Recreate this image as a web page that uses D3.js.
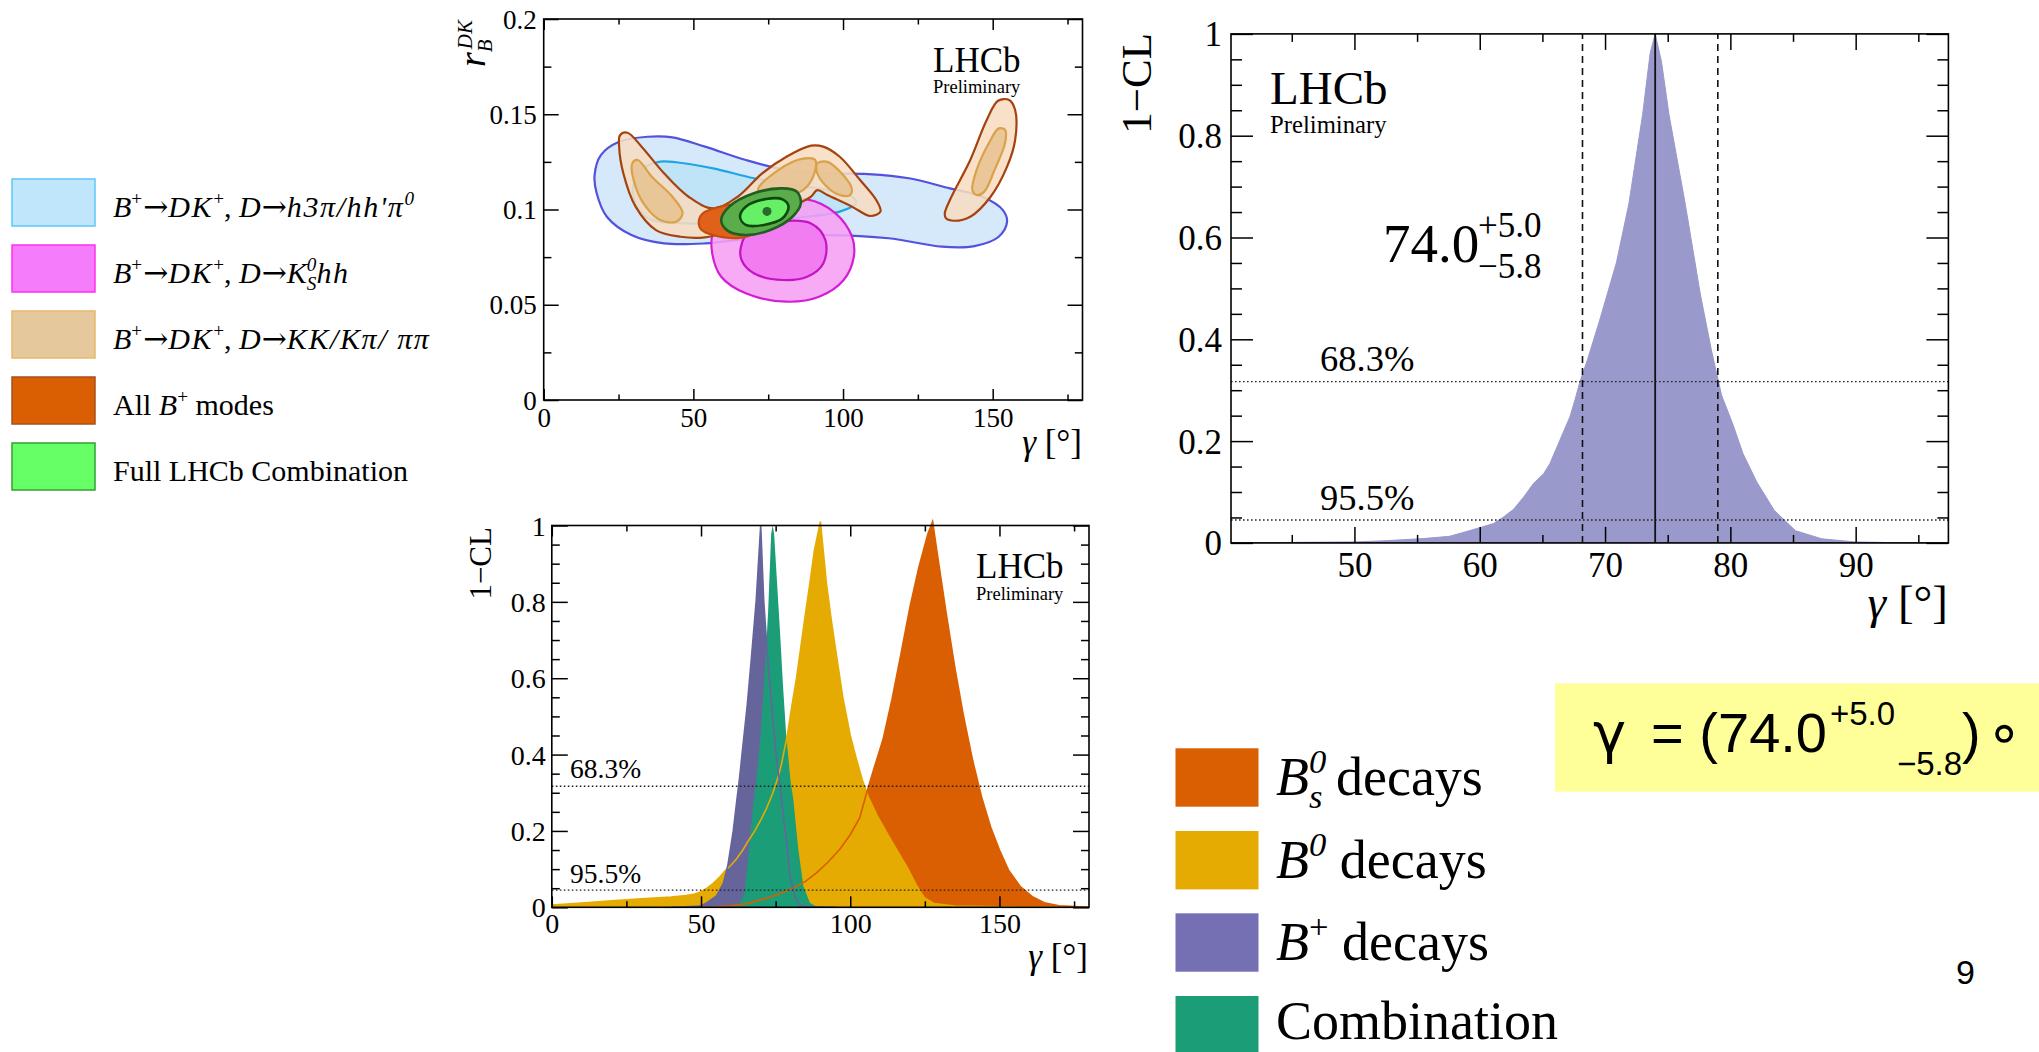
<!DOCTYPE html>
<html><head><meta charset="utf-8">
<script src="https://cdn.jsdelivr.net/npm/d3@7"></script>
<style>
body{margin:0;background:#fff;}
svg{display:block;background:#fff;}
text{font-family:"Liberation Serif","Times New Roman",serif;fill:#000;}
</style></head><body>
<svg id="chart" width="2039" height="1052"></svg>
<script>
// ===================== DATA =====================
// --- Top plot: 2D contours in (gamma [deg], r_B^DK) ---
const blueOuter = [[17,0.118],[19.1,0.1286],[25.2,0.1356],[34.8,0.1382],[43,0.1379],[53.9,0.133],[67.5,0.126],[81.1,0.1207],[94.8,0.119],[108.4,0.1186],[122,0.1164],[135.7,0.1111],[146.6,0.1067],[153.4,0.0997],[154.8,0.0936],[152,0.0857],[143.9,0.0808],[133,0.0805],[115.2,0.0849],[94.8,0.0866],[74.3,0.0857],[53.9,0.0822],[40.2,0.0822],[29.3,0.0866],[21.1,0.0962],[17.7,0.1085]];
const blueInner = [[30,0.1129],[33.4,0.1216],[38.9,0.1251],[44.3,0.1248],[56.6,0.1216],[70.2,0.1164],[81.1,0.1137],[94.8,0.1102],[103,0.1067],[104.3,0.1032],[98.9,0.0989],[88,0.0962],[67.5,0.0936],[48.4,0.0927],[34.8,0.0954],[30.7,0.1032]];
const magentaOuter = [[56.6,0.0875],[64.8,0.098],[75.7,0.1032],[88,0.1053],[97.5,0.098],[103,0.0857],[103.6,0.0752],[100.2,0.063],[92,0.0542],[81.1,0.0516],[67.5,0.056],[59.3,0.0647],[56.3,0.077]];
const magentaInner = [[65.9,0.0805],[68.9,0.0892],[78.4,0.0936],[89.3,0.0927],[94.1,0.084],[93.4,0.0717],[88,0.0647],[79.8,0.063],[70.2,0.0665],[66.1,0.0735]];
const tanOuterA = [[25.5,0.139],[28,0.1403],[32.7,0.133],[40.2,0.119],[48.4,0.1067],[56.6,0.1006],[64.8,0.1067],[73,0.119],[81.1,0.1277],[89.3,0.1335],[93.4,0.133],[98.9,0.1277],[105.7,0.1155],[111.1,0.105],[112.5,0.0989],[109.1,0.0966],[103,0.1015],[94.8,0.1076],[91.4,0.1102],[89.3,0.1067],[85.2,0.1032],[59.3,0.0875],[53.9,0.0854],[45.7,0.0857],[37.5,0.0892],[30.7,0.1015],[26.6,0.119],[25.2,0.133]];
const tanOuterB = [[134,0.098],[135.7,0.105],[142.5,0.126],[148,0.147],[151.8,0.1571],[155.5,0.1575],[157.5,0.1522],[157.5,0.1365],[154.8,0.1225],[149.3,0.1067],[142.5,0.0962],[137.1,0.0941],[134.4,0.0954]];
const tanInner1 = [[29.6,0.1242],[31.4,0.126],[36.1,0.1172],[43,0.1067],[46.4,0.098],[44.3,0.0936],[38.9,0.0945],[34.1,0.1015],[30.7,0.112]];
const tanInner2 = [[71.6,0.1102],[78.4,0.1207],[86.6,0.1267],[90.7,0.126],[90,0.1172],[86.6,0.1102],[79.8,0.1067],[74.3,0.1067]];
const tanInner3 = [[91.4,0.1242],[94.8,0.125],[99.5,0.119],[102.9,0.1111],[102.3,0.1076],[98.9,0.1076],[94,0.1129],[91.4,0.119]];
const tanInner4 = [[143.2,0.1102],[144.6,0.1207],[149.3,0.1365],[152,0.1426],[154.2,0.1417],[154.1,0.1347],[150.6,0.1207],[147.2,0.1094],[144.6,0.1076]];
const allBplus = [[51.8,0.0936],[53.2,0.098],[58,0.1011],[64.8,0.1029],[70.2,0.1015],[73,0.0945],[70.2,0.0875],[64.8,0.085],[56.6,0.0866],[52.8,0.0892]];
const greenOuter = [[59.3,0.0945],[62,0.1015],[70.2,0.1085],[79.8,0.1111],[84.5,0.1094],[85.9,0.1032],[83.1,0.0962],[75.7,0.0892],[67.5,0.0866],[61.4,0.0889]];
const greenInner = [[65.6,0.0962],[67.5,0.1015],[74.3,0.1055],[79.8,0.1053],[81.8,0.1015],[79.8,0.0954],[73.6,0.0919],[67.5,0.0919]];
const bestFit = [74.6, 0.099];

// --- Bottom plot: 1-CL vs gamma for each group ---
const bsDecays = [[50,0],[55,0.001],[60,0.004],[65,0.009],[72,0.024],[76,0.035],[80.9,0.05],[85,0.068],[88.7,0.09],[92.5,0.118],[96.5,0.152],[100,0.19],[103.2,0.235],[105.5,0.3],[108,0.365],[111,0.44],[114,0.545],[117,0.664],[120,0.786],[123,0.891],[126,0.978],[127.6,1.01],[129,0.935],[132,0.778],[135,0.63],[138,0.499],[141,0.385],[144,0.289],[147,0.211],[150,0.15],[153,0.098],[157,0.054],[161,0.028],[165,0.012],[170,0.004],[175,0.002],[180,0]];
const b0Decays = [[0,0.006],[10,0.011],[20,0.017],[30,0.022],[40,0.027],[45,0.031],[48,0.035],[50,0.041],[52,0.05],[54,0.062],[56,0.077],[58,0.095],[60,0.11],[62,0.128],[64,0.15],[66,0.176],[68,0.2],[70,0.228],[72,0.26],[74,0.298],[76,0.345],[77,0.377],[79,0.455],[80.5,0.53],[82,0.6],[83.5,0.685],[85,0.769],[86.5,0.85],[88,0.935],[90,1.01],[92,0.85],[93.5,0.76],[95,0.68],[97.5,0.55],[100,0.45],[102,0.39],[104,0.335],[106,0.29],[109,0.24],[112.6,0.19],[116,0.145],[119.4,0.1],[122,0.06],[124.8,0.025],[128,0.01],[135,0.003],[150,0.001],[180,0]];
const bplusDecays = [[40,0],[45,0.001],[49.7,0.003],[52,0.012],[55.2,0.03],[57.5,0.063],[59,0.11],[60.8,0.2],[62,0.28],[63,0.345],[64,0.42],[65.5,0.53],[67,0.664],[68.5,0.804],[70,1.0],[71,0.804],[72,0.69],[73.5,0.542],[75,0.411],[76.3,0.33],[77.3,0.26],[78.7,0.169],[79.8,0.081],[81.5,0.028],[83,0.006],[86,0.001],[95,0]];
const combination = [[50,0],[55,0.001],[60,0.003],[63,0.01],[64.5,0.035],[65.2,0.08],[66.3,0.17],[67.5,0.27],[68.5,0.33],[70,0.455],[71.5,0.63],[72.5,0.778],[73.5,0.978],[74,1.0],[74.5,0.978],[75.5,0.847],[76.5,0.717],[77.5,0.577],[78.5,0.455],[80,0.33],[80.9,0.284],[82.6,0.152],[84.3,0.055],[86.5,0.011],[88.7,0.002],[95,0]];

// --- Right plot: full combination 1-CL ---
const fullCombo = [[40.15,0],[45,0.001],[50.1,0.002],[52.3,0.004],[55.5,0.0085],[57.6,0.013],[58.9,0.022],[60,0.03],[61.1,0.038],[61.9,0.051],[62.7,0.066],[63.5,0.09],[64.3,0.117],[65.1,0.136],[65.6,0.156],[66.4,0.202],[67.2,0.248],[67.6,0.281],[68,0.317],[68.6,0.36],[69.6,0.44],[70.9,0.55],[71.9,0.666],[73,0.842],[73.6,0.962],[74,1.0],[74.5,0.946],[75.1,0.842],[76.4,0.666],[77.6,0.489],[78.5,0.377],[79.3,0.29],[80.2,0.233],[81,0.176],[82.1,0.12],[83.5,0.064],[85.2,0.024],[87.3,0.008],[89.9,0.002],[93,0.0005],[97.4,0]];
const gammaBest = 74.0, gammaLo = 68.2, gammaHi = 79.0;
const clLevels = [0.317, 0.045];
const clLabels = ["68.3%", "95.5%"];

// --- ticks ---
const topXMajor = [0,50,100,150], topXMinor = [25,75,125,175];
const topYMajor = [0,0.05,0.1,0.15,0.2], topYMinor = [0.025,0.075,0.125,0.175];
const botXMajor = [0,50,100,150], botXMinor = [25,75,125,175];
const clMajor = [0,0.2,0.4,0.6,0.8,1], clMinor = [0.05,0.1,0.15,0.25,0.3,0.35,0.45,0.5,0.55,0.65,0.7,0.75,0.85,0.9,0.95];
const rXMajor = [50,60,70,80,90], rXMinor = [45,55,65,75,85,95];

// --- legends ---
const legendTopColors = [["#bfe6fa","#5cc8fa"],["#f57cfb","#ff30ee"],["#e5c89b","#e8b868"],["#d95f02","#a8501e"],["#66ff66","#33a033"]];
const legendBotColors = ["#d95f02","#e6ab02","#7570b3","#1b9e77"];

// ===================== DRAWING =====================
const svg = d3.select("#chart");
const fmt = d3.format("~g");
const ARROWFONT = "'DejaVu Serif', 'DejaVu Sans', serif";

function drawAxes(g, x, y, c) {
  const [L, R] = x.range(), [B, T] = y.range();
  const mk = (gen, vals, len, f) => gen.tickValues(vals).tickSizeInner(-len).tickSizeOuter(0).tickFormat(f || (() => ""));
  const sets = [
    [d3.axisBottom(x), `translate(0,${B})`, c.xMajor, c.xLen[0], fmt, "bx"],
    [d3.axisBottom(x), `translate(0,${B})`, c.xMinor, c.xLen[1], null, ""],
    [d3.axisTop(x), `translate(0,${T})`, c.xMajor, c.xLen[0], null, ""],
    [d3.axisTop(x), `translate(0,${T})`, c.xMinor, c.xLen[1], null, ""],
    [d3.axisLeft(y), `translate(${L},0)`, c.yMajor, c.yLen[0], fmt, "ly"],
    [d3.axisLeft(y), `translate(${L},0)`, c.yMinor, c.yLen[1], null, ""],
    [d3.axisRight(y), `translate(${R},0)`, c.yMajor, c.yLen[0], null, ""],
    [d3.axisRight(y), `translate(${R},0)`, c.yMinor, c.yLen[1], null, ""]
  ];
  sets.forEach(([gen, tr, vals, len, f, kind]) => {
    const a = g.append("g").attr("transform", tr).call(mk(gen, vals, len, f));
    a.attr("font-family", null).attr("font-size", null);
    a.select(".domain").remove();
    a.selectAll(".tick line").attr("stroke", "#000").attr("stroke-width", 1.5);
    if (kind === "bx") a.selectAll("text").attr("y", c.xLabY).attr("dy", null).style("font-size", c.fs + "px");
    else if (kind === "ly") a.selectAll("text").attr("x", -c.yGap).attr("dy", "0.34em").style("font-size", c.fs + "px");
    else a.selectAll("text").remove();
  });
  g.append("rect").attr("x", L).attr("y", T).attr("width", R - L).attr("height", B - T)
    .attr("fill", "none").attr("stroke", "#000").attr("stroke-width", 1.6);
}

function rich(parent, x, y, fs, parts, opts = {}) {
  const t = parent.append("text").attr("x", x).attr("y", y).style("font-size", fs + "px");
  if (opts.family) t.style("font-family", opts.family);
  if (opts.anchor) t.attr("text-anchor", opts.anchor);
  let cur = 0, prev = null;
  parts.forEach(p => {
    const ts = t.append("tspan").text(p.t);
    if (p.i) ts.style("font-style", "italic");
    if (p.f) ts.style("font-family", p.f);
    if (p.s) ts.style("font-size", (p.s * fs) + "px");
    if (p.ls) ts.style("letter-spacing", p.ls + "px");
    let off = 0;
    if (p.sup) { off = -0.40 * fs; ts.style("font-size", (0.64 * fs) + "px"); }
    if (p.sub) { off = 0.24 * fs; ts.style("font-size", (0.64 * fs) + "px"); }
    if (off - cur !== 0) ts.attr("dy", off - cur);
    if (p.stack && prev) ts.attr("dx", -prev.node().getComputedTextLength());
    else if (p.dx) ts.attr("dx", p.dx);
    cur = off; prev = ts;
  });
  return t;
}

function gammaLabel(g, xr, yb, fs) {
  const t = g.append("text").attr("x", xr).attr("y", yb).attr("text-anchor", "end").style("font-size", fs + "px");
  t.append("tspan").text("γ").style("font-style", "italic");
  t.append("tspan").text(" [°]");
}
function lhcb(g, x, yb, fs, yb2, fs2) {
  g.append("text").attr("x", x).attr("y", yb).style("font-size", fs + "px").text("LHCb");
  g.append("text").attr("x", x).attr("y", yb2).style("font-size", fs2 + "px").text("Preliminary");
}

// ---------- TOP-MIDDLE: contour plot ----------
{
  const x = d3.scaleLinear().domain([0, 180]).range([543.7, 1082.5]);
  const y = d3.scaleLinear().domain([0, 0.2]).range([400, 19]);
  const g = svg.append("g");
  g.append("clipPath").attr("id", "clipTop").append("rect")
    .attr("x", 543.7).attr("y", 19).attr("width", 1082.5 - 543.7).attr("height", 381);
  const pg = g.append("g").attr("clip-path", "url(#clipTop)");
  const line = d3.line().x(d => x(d[0])).y(d => y(d[1])).curve(d3.curveCatmullRomClosed.alpha(0.5));
  const shape = (data, fill, stroke, sw, op) => pg.append("path").attr("d", line(data))
    .attr("fill", fill).attr("fill-opacity", op || 1).attr("stroke", stroke).attr("stroke-width", sw);
  shape(blueOuter, "#d5e9fb", "#5252dc", 2.2);
  shape(blueInner, "#bfe4f8", "#1fa6e2", 2.2);
  shape(magentaOuter, "#f79ff4", "#d41ed4", 2.2, 0.88);
  shape(magentaInner, "#f07af0", "#c512c5", 2.2, 0.95);
  shape(tanOuterA, "#f7dcc2", "#a5420f", 2.2, 0.88);
  shape(tanOuterB, "#f7dcc2", "#a5420f", 2.2, 0.88);
  [tanInner1, tanInner2, tanInner3, tanInner4].forEach(d => shape(d, "#e8c392", "#d9a24a", 2.2, 0.9));
  shape(allBplus, "#e0621a", "#c24e0c", 2.2);
  shape(greenOuter, "#5aad4a", "#225e22", 2.6);
  shape(greenInner, "#66f066", "#0c4a0c", 2.6);
  pg.append("circle").attr("cx", x(bestFit[0])).attr("cy", y(bestFit[1])).attr("r", 4.5).attr("fill", "#2a6a2a");
  drawAxes(g, x, y, { xMajor: topXMajor, xMinor: topXMinor, yMajor: topYMajor, yMinor: topYMinor,
    xLen: [11, 5.5], yLen: [15, 7.7], fs: 27, xLabY: 27, yGap: 7 });
  gammaLabel(g, 1082, 454, 35);
  lhcb(g, 933, 72, 35, 93, 18.5);
  const yl = g.append("text").attr("transform", "translate(485,67) rotate(-90)").style("font-size", "38px").style("font-style", "italic");
  yl.append("tspan").text("r");
  const sB = yl.append("tspan").text("B").style("font-size", "21px").attr("dy", 7);
  const bw = sB.node().getComputedTextLength();
  yl.append("tspan").text("DK").style("font-size", "21px").attr("dx", -bw + 3).attr("dy", -20);
}

// ---------- BOTTOM-MIDDLE: 1-CL by group ----------
{
  const x = d3.scaleLinear().domain([0, 180]).range([551.8, 1089]);
  const y = d3.scaleLinear().domain([0, 1]).range([907.3, 525.5]);
  const g = svg.append("g");
  const area = d3.area().x(d => x(d[0])).y0(y(0)).y1(d => y(d[1]));
  const ln = d3.line().x(d => x(d[0])).y(d => y(d[1]));
  g.append("path").attr("d", area(bsDecays)).attr("fill", "#d95f02");
  g.append("path").attr("d", area(b0Decays)).attr("fill", "#e6ab02");
  g.append("path").attr("d", area(bplusDecays)).attr("fill", "#65659c");
  g.append("path").attr("d", area(combination)).attr("fill", "#1b9e77");
  g.append("path").attr("d", ln(b0Decays)).attr("fill", "none").attr("stroke", "#e6ab02").attr("stroke-width", 1.6);
  g.append("path").attr("d", ln(bsDecays)).attr("fill", "none").attr("stroke", "#d95f02").attr("stroke-width", 1.6);
  g.append("path").attr("d", ln(bplusDecays)).attr("fill", "none").attr("stroke", "#65659c").attr("stroke-width", 1.6);
  clLevels.forEach(v => {
    g.append("line").attr("x1", x(0)).attr("x2", x(180)).attr("y1", y(v)).attr("y2", y(v))
      .attr("stroke", "#222").attr("stroke-width", 1.3).attr("stroke-dasharray", "1.6,2.4");
  });
  g.append("text").attr("x", 570).attr("y", 778).style("font-size", "27.5px").text(clLabels[0]);
  g.append("text").attr("x", 570).attr("y", 883).style("font-size", "27.5px").text(clLabels[1]);
  drawAxes(g, x, y, { xMajor: botXMajor, xMinor: botXMinor, yMajor: clMajor, yMinor: clMinor,
    xLen: [11, 6], yLen: [16, 8], fs: 28, xLabY: 26, yGap: 6 });
  gammaLabel(g, 1088, 968, 35);
  lhcb(g, 976, 578, 35, 600, 18.5);
  g.append("text").attr("transform", "translate(491,527) rotate(-90)").attr("text-anchor", "end")
    .style("font-size", "31px").text("1−CL");
}

// ---------- RIGHT: full combination ----------
{
  const x = d3.scaleLinear().domain([40.15, 97.4]).range([1231, 1948.4]);
  const y = d3.scaleLinear().domain([0, 1]).range([542.9, 33.9]);
  const g = svg.append("g");
  const area = d3.area().x(d => x(d[0])).y0(y(0)).y1(d => y(d[1]));
  g.append("path").attr("d", area(fullCombo)).attr("fill", "#9999cc").attr("stroke", "#9999cc").attr("stroke-width", 1);
  clLevels.forEach(v => {
    g.append("line").attr("x1", x.range()[0]).attr("x2", x.range()[1]).attr("y1", y(v)).attr("y2", y(v))
      .attr("stroke", "#222").attr("stroke-width", 1.3).attr("stroke-dasharray", "1.6,2.4");
  });
  [gammaLo, gammaHi].forEach(v => {
    g.append("line").attr("x1", x(v)).attr("x2", x(v)).attr("y1", y(0)).attr("y2", y(1))
      .attr("stroke", "#111").attr("stroke-width", 1.6).attr("stroke-dasharray", "7,5");
  });
  g.append("line").attr("x1", x(gammaBest)).attr("x2", x(gammaBest)).attr("y1", y(0)).attr("y2", y(1))
    .attr("stroke", "#111").attr("stroke-width", 1.8);
  g.append("text").attr("x", 1320).attr("y", 371).style("font-size", "36.5px").text(clLabels[0]);
  g.append("text").attr("x", 1320).attr("y", 510).style("font-size", "36.5px").text(clLabels[1]);
  drawAxes(g, x, y, { xMajor: rXMajor, xMinor: rXMinor, yMajor: clMajor, yMinor: clMinor,
    xLen: [16, 8], yLen: [22, 11], fs: 35, xLabY: 34, yGap: 9 });
  gammaLabel(g, 1948, 618, 47);
  lhcb(g, 1270, 104, 47, 133, 24.7);
  g.append("text").attr("transform", "translate(1151,33) rotate(-90)").attr("text-anchor", "end")
    .style("font-size", "43px").text("1−CL");
  g.append("text").attr("x", 1383).attr("y", 261.7).style("font-size", "55px").text("74.0");
  g.append("text").attr("x", 1478).attr("y", 236.7).style("font-size", "35px").text("+5.0");
  g.append("text").attr("x", 1478).attr("y", 278.3).style("font-size", "35px").text("−5.8");
}

// ---------- TOP-LEFT LEGEND ----------
{
  const g = svg.append("g");
  g.append("clipPath").attr("id", "clipLeg").append("rect").attr("x", 0).attr("y", 0).attr("width", 434).attr("height", 600);
  const rowsTop = [179, 245, 311, 377, 443];
  rowsTop.forEach((ty, i) => {
    g.append("rect").attr("x", 12).attr("y", ty).attr("width", 83).attr("height", 47)
      .attr("fill", legendTopColors[i][0]).attr("stroke", legendTopColors[i][1]).attr("stroke-width", 1.5);
  });
  const tg = g.append("g").attr("clip-path", "url(#clipLeg)");
  const fs = 30, bl = i => rowsTop[i] + 37.5;
  const AR = {t:"→", f: ARROWFONT, s: 1.0, dx: 1};
  const LS = 1.6;
  rich(tg, 113, bl(0), fs, [{t:"B",i:1},{t:"+",sup:1},AR,{t:"DK",i:1,ls:LS},{t:"+",sup:1},{t:", "},{t:"D",i:1},AR,{t:"h3π/hh'π",i:1,ls:LS},{t:"0",sup:1,i:1}]);
  rich(tg, 113, bl(1), fs, [{t:"B",i:1},{t:"+",sup:1},AR,{t:"DK",i:1,ls:LS},{t:"+",sup:1},{t:", "},{t:"D",i:1},AR,{t:"K",i:1},{t:"0",sup:1,i:1},{t:"S",sub:1,i:1,stack:1},{t:"hh",i:1,ls:LS}]);
  rich(tg, 113, bl(2), fs, [{t:"B",i:1},{t:"+",sup:1},AR,{t:"DK",i:1,ls:LS},{t:"+",sup:1},{t:", "},{t:"D",i:1},AR,{t:"KK/Kπ/ ππ",i:1,ls:LS}]);
  rich(tg, 113, bl(3), fs, [{t:"All "},{t:"B",i:1},{t:"+",sup:1},{t:" modes"}]);
  rich(tg, 113, bl(4), fs, [{t:"Full LHCb Combination"}]);
}

// ---------- BOTTOM-RIGHT LEGEND ----------
{
  const g = svg.append("g");
  const rows = [748.3, 831, 913.3, 996];
  rows.forEach((ty, i) => {
    g.append("rect").attr("x", 1175.5).attr("y", ty).attr("width", 83).attr("height", 58.4).attr("fill", legendBotColors[i]);
  });
  const fs = 54, bl = i => rows[i] + 46.7 - (i === 3 ? 4 : 0);
  rich(g, 1276, bl(0), fs, [{t:"B",i:1},{t:"0",sup:1,i:1},{t:"s",sub:1,i:1,stack:1},{t:" decays"}]);
  rich(g, 1276, bl(1), fs, [{t:"B",i:1},{t:"0",sup:1,i:1},{t:" decays"}]);
  rich(g, 1276, bl(2), fs, [{t:"B",i:1},{t:"+",sup:1},{t:" decays"}]);
  rich(g, 1276, bl(3), fs, [{t:"Combination"}]);
}

// ---------- YELLOW RESULT BOX + PAGE NUMBER ----------
{
  const g = svg.append("g");
  const sans = "'Liberation Sans', Arial, sans-serif";
  g.append("rect").attr("x", 1555).attr("y", 683.3).attr("width", 484).attr("height", 108.4).attr("fill", "#ffff99");
  g.append("text").attr("x", 1593).attr("y", 751.7).style("font-family", "'DejaVu Sans', sans-serif").style("font-size", "56px").text("γ");
  g.append("text").attr("x", 1827).attr("y", 751.7).attr("text-anchor", "end").style("font-family", sans).style("font-size", "56px").text("= (74.0");
  g.append("text").attr("x", 1830).attr("y", 725).style("font-family", sans).style("font-size", "33px").text("+5.0");
  g.append("text").attr("x", 1897).attr("y", 775).style("font-family", sans).style("font-size", "33px").text("−5.8");
  g.append("text").attr("x", 1962).attr("y", 751.7).style("font-family", sans).style("font-size", "56px").text(")");
  g.append("text").attr("x", 1986).attr("y", 751.7).style("font-family", "'DejaVu Sans', sans-serif").style("font-size", "58px").text("∘");
  g.append("text").attr("x", 1956).attr("y", 984).style("font-family", sans).style("font-size", "34px").text("9");
}
</script>
</body></html>
